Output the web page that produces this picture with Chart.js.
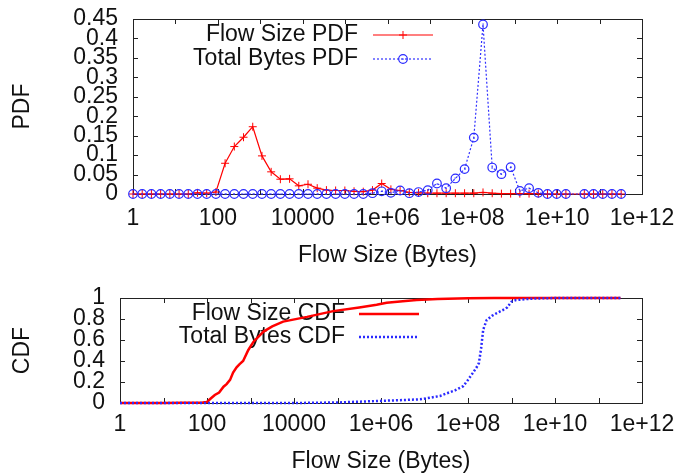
<!DOCTYPE html>
<html lang="en">
<head>
<meta charset="UTF-8">
<title>Flow Size PDF / CDF</title>
<script src="https://cdn.jsdelivr.net/npm/chart.js"></script>
<style>
  body { margin: 0; background: #fff; }
  .wrap { position: relative; width: 678px; height: 475px; }
  canvas { position: absolute; left: 0; }
  #pdfChart { top: 0; }
  #cdfChart { top: 270px; }
</style>
</head>
<body>
<div class="wrap">
  <canvas id="pdfChart" width="678" height="270"></canvas>
  <canvas id="cdfChart" width="678" height="205"></canvas>
</div>
<script>
// x axis: labels every 2 decades, tick marks every decade
const xTickValues = [1, 1e2, 1e4, 1e6, 1e8, 1e10, 1e12];
const xTickLabels = ['1', '100', '10000', '1e+06', '1e+08', '1e+10', '1e+12'];
const xDecades = [1, 1e1, 1e2, 1e3, 1e4, 1e5, 1e6, 1e7, 1e8, 1e9, 1e10, 1e11, 1e12];

const pdfTickValues = [0, 0.05, 0.1, 0.15, 0.2, 0.25, 0.3, 0.35, 0.4, 0.45];
const pdfTickLabels = ['0', '0.05', '0.1', '0.15', '0.2', '0.25', '0.3', '0.35', '0.4', '0.45'];
const cdfTickValues = [0, 0.2, 0.4, 0.6, 0.8, 1];
const cdfTickLabels = ['0', '0.2', '0.4', '0.6', '0.8', '1'];

// PDF bins (bytes)
const pdfBins = [1, 1.649, 2.718, 4.482, 7.389, 12.18, 20.09, 33.12, 54.6, 90.02,
  148.4, 244.7, 403.4, 665.1, 1097, 1808, 2981, 4915, 8103, 13360,
  22026, 36316, 59874, 98716, 162755, 268337, 442413, 729416, 1202604, 1982759,
  3269017, 5389698, 8886111, 14650719, 24154953, 39824784, 65659969, 108254988, 178482301, 294267566,
  485165195, 799902177, 1318815734, 2174359553, 3584912846, 5910522063, 9744803446, 16066464720,
  43673179097, 72004899337, 118716009132, 195729609429, 322703570371];

const flowSizePdf = [0, 0, 0, 0, 0, 0, 0, 0.003, 0.002, 0.005,
  0.079, 0.122, 0.146, 0.173, 0.098, 0.057, 0.038, 0.039, 0.021, 0.025,
  0.015, 0.010, 0.009, 0.009, 0.007, 0.006, 0.010, 0.027, 0.012, 0.009,
  0.004, 0.003, 0.002, 0.002, 0.002, 0.002, 0.002, 0.002, 0.004, 0.002,
  0.001, 0.001, 0.001, 0.001, 0.001, 0, 0, 0,
  0, 0, 0, 0, 0];

const totalBytesPdf = [0, 0, 0, 0, 0, 0, 0, 0, 0, 0,
  0, 0, 0, 0, 0, 0, 0, 0, 0, 0,
  0, 0, 0, 0, 0, 0, 0.002, 0.007, 0.003, 0.009,
  0.002, 0.005, 0.010, 0.027, 0.015, 0.040, 0.064, 0.145, 0.436, 0.068,
  0.051, 0.069, 0.008, 0.015, 0.003, 0, 0, 0,
  0, 0, 0, 0, 0];

// CDF curves
const flowSizeCdfX = [1, 10, 79, 100, 120, 151, 190, 240, 282, 339, 398, 479, 562, 676, 891, 1175,
  1995, 3162, 5623, 19953, 79433, 316228, 794328, 1348963, 3162278, 6606934, 19952623, 1e8, 4e8, 3.2e11];
const flowSizeCdfY = [0, 0, 0.005, 0.01, 0.04, 0.076, 0.10, 0.155, 0.18, 0.22, 0.29, 0.34, 0.37, 0.40, 0.505, 0.584,
  0.68, 0.73, 0.775, 0.82, 0.875, 0.91, 0.935, 0.955, 0.97, 0.98, 0.99, 0.998, 1, 1];

const totalBytesCdfX = [1, 1e4, 1e5, 9.5e5, 3.16e6, 7.9e6, 1.12e7, 2.29e7, 3.16e7, 5.0e7, 7.76e7, 1.0e8,
  1.26e8, 1.58e8, 1.78e8, 2.0e8, 2.24e8, 2.69e8, 3.55e8, 4.57e8, 6.31e8, 7.94e8, 1.0e9, 1.26e9, 2.69e9, 1e10, 3.2e11];
const totalBytesCdfY = [0, 0, 0.005, 0.02, 0.028, 0.035, 0.045, 0.067, 0.09, 0.12, 0.16, 0.22,
  0.28, 0.34, 0.38, 0.52, 0.70, 0.79, 0.83, 0.855, 0.885, 0.91, 0.965, 0.98, 0.993, 1, 1];

const FONT = "'Liberation Sans', Arial, Helvetica, sans-serif";
Chart.defaults.font.family = FONT;
Chart.defaults.font.size = 23;
Chart.defaults.color = '#111';

function pts(xs, ys) {
  return xs.map((x, i) => ({ x: x, y: ys[i] }));
}

// gnuplot style border with inward tick marks
const framePlugin = {
  id: 'gpFrame',
  beforeDatasetsDraw(chart, args, opts) {
    const { ctx, chartArea: a, scales: { x, y } } = chart;
    ctx.save();
    ctx.strokeStyle = '#222';
    ctx.lineWidth = 1;
    ctx.beginPath();
    opts.xMarks.forEach(v => {
      const px = Math.round(x.getPixelForValue(v)) + 0.5;
      ctx.moveTo(px, a.bottom); ctx.lineTo(px, a.bottom - 5);
      ctx.moveTo(px, a.top); ctx.lineTo(px, a.top + 5);
    });
    opts.yMarks.forEach(v => {
      const py = Math.round(y.getPixelForValue(v)) + 0.5;
      ctx.moveTo(a.left, py); ctx.lineTo(a.left + 5, py);
      ctx.moveTo(a.right, py); ctx.lineTo(a.right - 5, py);
    });
    ctx.stroke();
    ctx.strokeRect(Math.round(a.left) + 0.5, Math.round(a.top) + 0.5,
      Math.round(a.right - a.left), Math.round(a.bottom - a.top));
    ctx.restore();
  },
  // small centre dot inside the open circles, like gnuplot's png terminal
  afterDatasetsDraw(chart) {
    const ctx = chart.ctx;
    chart.data.datasets.forEach((ds, i) => {
      if (ds.pointStyle !== 'circle' || !(ds.pointRadius > 0)) return;
      ctx.save();
      ctx.fillStyle = ds.pointBorderColor;
      chart.getDatasetMeta(i).data.forEach(p => {
        ctx.fillRect(Math.round(p.x) - 0.5, Math.round(p.y) - 0.5, 1.2, 1.2);
      });
      ctx.restore();
    });
  }
};

// key: right aligned text followed by a line sample
const keyPlugin = {
  id: 'gpKey',
  beforeDatasetsDraw(chart, args, opts) {
    const ctx = chart.ctx;
    ctx.save();
    ctx.font = '23px ' + FONT;
    ctx.textAlign = 'right';
    ctx.textBaseline = 'middle';
    chart.data.datasets.forEach((ds, i) => {
      const y = opts.rows[i];
      ctx.fillStyle = '#111';
      ctx.fillText(ds.label, opts.textRight, y);
      ctx.strokeStyle = ds.borderColor;
      ctx.lineWidth = ds.borderWidth;
      ctx.setLineDash(ds.borderDash || []);
      ctx.beginPath();
      ctx.moveTo(opts.sampleLeft, y);
      ctx.lineTo(opts.sampleRight, y);
      ctx.stroke();
      ctx.setLineDash([]);
      if (ds.pointRadius > 0) {
        const mx = (opts.sampleLeft + opts.sampleRight) / 2;
        const r = ds.pointRadius;
        ctx.strokeStyle = ds.pointBorderColor;
        ctx.lineWidth = ds.pointBorderWidth;
        ctx.beginPath();
        if (ds.pointStyle === 'cross') {
          ctx.moveTo(mx - r, y); ctx.lineTo(mx + r, y);
          ctx.moveTo(mx, y - r); ctx.lineTo(mx, y + r);
        } else {
          ctx.arc(mx, y, r, 0, Math.PI * 2);
        }
        ctx.stroke();
        if (ds.pointStyle === 'circle') {
          ctx.fillStyle = ds.pointBorderColor;
          ctx.fillRect(Math.round(mx) - 0.5, y - 0.5, 1.2, 1.2);
        }
      }
    });
    ctx.restore();
  }
};

function xAxis(height, titlePad, tickPad) {
  return {
    type: 'logarithmic',
    min: 1,
    max: 1e12,
    grid: { display: false, drawTicks: false },
    border: { display: false },
    afterBuildTicks: s => { s.ticks = xTickValues.map(v => ({ value: v })); },
    afterFit: s => { s.height = height; s.paddingLeft = 0; s.paddingRight = 0; },
    ticks: {
      autoSkip: false,
      maxRotation: 0,
      padding: tickPad,
      callback: (v, i) => xTickLabels[i]
    },
    title: { display: true, text: 'Flow Size (Bytes)', padding: { top: 0, bottom: titlePad } }
  };
}

function yAxis(width, max, values, labels, title) {
  return {
    min: 0,
    max: max,
    grid: { display: false, drawTicks: false },
    border: { display: false },
    afterBuildTicks: s => { s.ticks = values.map(v => ({ value: v })); },
    afterFit: s => { s.width = width; s.paddingTop = 0; s.paddingBottom = 0; },
    ticks: {
      autoSkip: false,
      padding: 15,
      callback: (v, i) => labels[i]
    },
    title: { display: true, text: title, padding: { top: 9, bottom: 0 } }
  };
}

new Chart(document.getElementById('pdfChart'), {
  type: 'line',
  data: {
    datasets: [{
      label: 'Flow Size PDF',
      data: pts(pdfBins, flowSizePdf),
      borderColor: '#ff0000',
      borderWidth: 1.2,
      pointStyle: 'cross',
      pointRadius: 4,
      pointBorderWidth: 1,
      pointBorderColor: '#ff0000',
      pointBackgroundColor: 'rgba(0,0,0,0)',
      tension: 0,
      fill: false,
      clip: false,
      order: 2
    }, {
      label: 'Total Bytes PDF',
      data: pts(pdfBins, totalBytesPdf),
      borderColor: '#3030ff',
      borderWidth: 1.2,
      borderDash: [2, 2],
      pointStyle: 'circle',
      pointRadius: 4.3,
      pointBorderWidth: 1.2,
      pointBorderColor: '#2a2aff',
      pointBackgroundColor: 'rgba(0,0,0,0)',
      tension: 0,
      fill: false,
      clip: false,
      order: 1
    }]
  },
  options: {
    responsive: false,
    animation: false,
    layout: { padding: { left: 0, right: 36, top: 19, bottom: 0 } },
    scales: {
      x: xAxis(76, 1, 11),
      y: yAxis(133, 0.45, pdfTickValues, pdfTickLabels, 'PDF')
    },
    plugins: {
      legend: { display: false },
      tooltip: { enabled: false },
      gpFrame: { xMarks: xDecades, yMarks: pdfTickValues },
      gpKey: { rows: [35, 59], textRight: 358, sampleLeft: 373, sampleRight: 433 }
    }
  },
  plugins: [framePlugin, keyPlugin]
});

new Chart(document.getElementById('cdfChart'), {
  type: 'line',
  data: {
    datasets: [{
      label: 'Flow Size CDF',
      data: pts(flowSizeCdfX, flowSizeCdfY),
      borderColor: '#ff0000',
      borderWidth: 2.5,
      pointRadius: 0,
      tension: 0,
      fill: false,
      clip: false,
      order: 2
    }, {
      label: 'Total Bytes CDF',
      data: pts(totalBytesCdfX, totalBytesCdfY),
      borderColor: '#2a2aff',
      borderWidth: 2.5,
      borderDash: [2, 2],
      pointRadius: 0,
      tension: 0,
      fill: false,
      clip: false,
      order: 1
    }]
  },
  options: {
    responsive: false,
    animation: false,
    layout: { padding: { left: 0, right: 36, top: 28, bottom: 0 } },
    scales: {
      x: xAxis(72, 0, 8),
      y: yAxis(120, 1, cdfTickValues, cdfTickLabels, 'CDF')
    },
    plugins: {
      legend: { display: false },
      tooltip: { enabled: false },
      gpFrame: { xMarks: xDecades, yMarks: cdfTickValues },
      gpKey: { rows: [44, 67], textRight: 345, sampleLeft: 359, sampleRight: 419 }
    }
  },
  plugins: [framePlugin, keyPlugin]
});
</script>
</body>
</html>
